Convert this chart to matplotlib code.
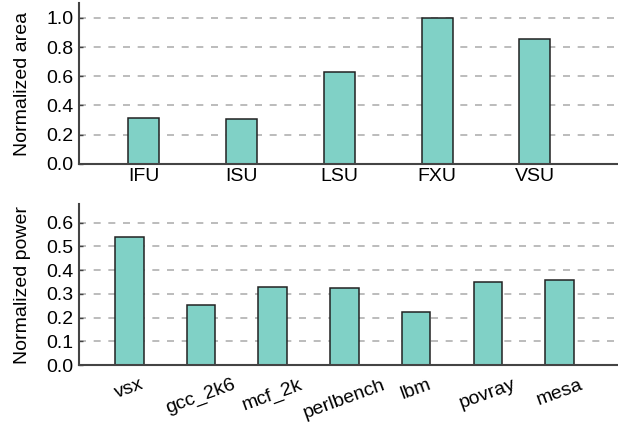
import matplotlib
matplotlib.use("Agg")
import matplotlib.pyplot as plt

plt.rcParams['font.family'] = ['Liberation Sans', 'DejaVu Sans']

units = ["IFU", "ISU", "LSU", "FXU", "VSU"]
area = [0.311, 0.31, 0.63, 1.0, 0.857]

benchmarks = ["vsx", "gcc_2k6", "mcf_2k", "perlbench", "lbm", "povray", "mesa"]
power = [0.539, 0.252, 0.328, 0.324, 0.225, 0.350, 0.357]

area_ticks = [0.0, 0.2, 0.4, 0.6, 0.8, 1.0]
power_ticks = [0.0, 0.1, 0.2, 0.3, 0.4, 0.5, 0.6]

bar_color = "#80d1c6"
edge_color = "#222222"
spine_color = "#444444"
grid_color = "#b0b0b0"
FS = 14

fig = plt.figure(figsize=(6.18, 4.23), dpi=100)
ax1 = fig.add_axes([0.1278, 0.613, 0.8706, 0.379])
ax2 = fig.add_axes([0.1278, 0.137, 0.8706, 0.380])

def style(ax, ticks):
    ax.set_axisbelow(True)
    ax.yaxis.grid(True, linestyle=(0, (4.2, 4.6)), color=grid_color, linewidth=1.2)
    ax.xaxis.grid(False)
    for s in ["top", "right"]:
        ax.spines[s].set_visible(False)
    for s in ["left", "bottom"]:
        ax.spines[s].set_color(spine_color)
        ax.spines[s].set_linewidth(1.5)
    ax.set_yticks(ticks)
    ax.set_yticklabels([f"{t:.1f}" for t in ticks])
    ax.tick_params(axis='y', direction='in', length=3, width=1, color=spine_color,
                   labelsize=FS, pad=4)
    ax.tick_params(axis='x', length=0, labelsize=FS, pad=3)

x1 = range(len(units))
ax1.bar(x1, area, width=0.317, color=bar_color, edgecolor=edge_color, linewidth=1.1)
style(ax1, area_ticks)
ax1.set_xticks(list(x1))
ax1.set_xticklabels(units)
ax1.set_xlim(-0.662, 4.84)
ax1.set_ylim(0, 1.1)
ax1.set_ylabel("Normalized area", fontsize=FS, labelpad=11)

x2 = range(len(benchmarks))
ax2.bar(x2, power, width=0.4, color=bar_color, edgecolor=edge_color, linewidth=1.1)
style(ax2, power_ticks)
ax2.set_xticks(list(x2))
ax2.set_xticklabels(benchmarks, rotation=20, ha='center')
ax2.tick_params(axis='x', pad=8)
ax2.set_xlim(-0.70, 6.80)
ax2.set_ylim(0, 0.677)
ax2.set_ylabel("Normalized power", fontsize=FS, labelpad=11)

fig.savefig("out.png", dpi=100)
